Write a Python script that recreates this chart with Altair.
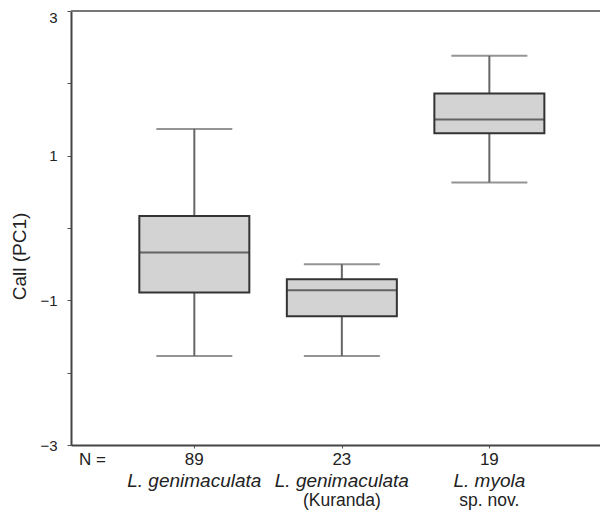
import altair as alt
import pandas as pd

# ---- data ----
names = ["L. genimaculata", "L. genimaculata", "L. myola"]
subnames = ["", "(Kuranda)", "sp. nov."]
n_values = [89, 23, 19]
whisk_lo = [-1.77, -1.77, 0.63]
q1 = [-0.89, -1.22, 1.31]
median = [-0.34, -0.86, 1.50]
q3 = [0.165, -0.71, 1.86]
whisk_hi = [1.37, -0.50, 2.38]
y_ticks = [-3, -2, -1, 0, 1, 2, 3]

df = pd.DataFrame({
    "pos": list(range(1, len(names) + 1)),
    "name": names,
    "sub": subnames,
    "n": [str(v) for v in n_values],
    "lo": whisk_lo,
    "q1": q1,
    "med": median,
    "q3": q3,
    "hi": whisk_hi,
})

W, H = 529, 434
FONT = "Liberation Sans"

xs = alt.Scale(domain=[0.164, 3.75], nice=False, zero=False, padding=0)
ys = alt.Scale(domain=[-3, 3], nice=False, zero=False, padding=0)

x_enc = alt.X("pos:Q", scale=xs,
              axis=alt.Axis(values=[1, 2, 3], labels=False, title=None, grid=False,
                            tickSize=3, tickColor="#555", tickWidth=1,
                            domainColor="#444", domainWidth=2))
y_enc = alt.Y("q1:Q", scale=ys,
              axis=alt.Axis(values=y_ticks, grid=False, title="Call (PC1)", format="d",
                            labelExpr="datum.value % 2 != 0 ? datum.label : ''",
                            labelOffset=alt.ExprRef("datum.value == 3 ? 6 : 0"),
                            labelFont=FONT, labelFontSize=15, labelColor="#222",
                            labelPadding=10, tickSize=4, tickColor="#555", tickWidth=1,
                            domainColor="#444", domainWidth=2,
                            titleFont=FONT, titleFontSize=19, titleFontWeight="normal",
                            titleColor="#222", titleX=-46, titleY=245,
                            titleAngle=270, titleAlign="center",
                            titleBaseline="alphabetic"))

base = alt.Chart(df)

top_line = base.mark_rule(color="#777", strokeWidth=2).encode(
    x=alt.value(0), x2=alt.value(W), y=alt.value(0))

whisk = base.mark_rule(color="#666", strokeWidth=2).encode(
    x=x_enc, y=alt.Y("lo:Q", scale=ys), y2="hi:Q")

caps_lo = base.mark_tick(orient="horizontal", size=76, thickness=2, color="#666").encode(
    x=alt.X("pos:Q", scale=xs), y=alt.Y("lo:Q", scale=ys))
caps_hi = base.mark_tick(orient="horizontal", size=76, thickness=2, color="#666").encode(
    x=alt.X("pos:Q", scale=xs), y=alt.Y("hi:Q", scale=ys))

box = base.mark_bar(size=110, fill="#d3d3d3", stroke="#333", strokeWidth=2).encode(
    x=alt.X("pos:Q", scale=xs), y=y_enc, y2="q3:Q")

med = base.mark_tick(orient="horizontal", size=110, thickness=2, color="#333").encode(
    x=alt.X("pos:Q", scale=xs), y=alt.Y("med:Q", scale=ys))

n_text = base.mark_text(font=FONT, fontSize=17, color="#222", baseline="alphabetic").encode(
    x=alt.X("pos:Q", scale=xs), y=alt.value(454), text="n:N")

name_text = base.mark_text(font=FONT, fontSize=19, fontStyle="italic", color="#222",
                           baseline="alphabetic").encode(
    x=alt.X("pos:Q", scale=xs), y=alt.value(476), text="name:N")

sub_text = base.mark_text(font=FONT, fontSize=17.5, color="#222",
                          baseline="alphabetic").encode(
    x=alt.X("pos:Q", scale=xs), y=alt.value(495), text="sub:N")

n_label = alt.Chart(pd.DataFrame({"t": ["N ="]})).mark_text(
    font=FONT, fontSize=17, color="#222", baseline="alphabetic", align="left").encode(
    x=alt.value(8), y=alt.value(454), text="t:N")

chart = alt.layer(
    top_line, whisk, caps_lo, caps_hi, box, med, n_text, name_text, sub_text, n_label
).properties(
    width=W, height=H,
    autosize=alt.AutoSizeParams(type="none"),
    padding={"left": 63, "top": 3, "right": 0, "bottom": 65},
).configure_view(stroke=None).configure(background="white")

chart.save("out.html", embed_options={"renderer": "svg", "actions": False})
